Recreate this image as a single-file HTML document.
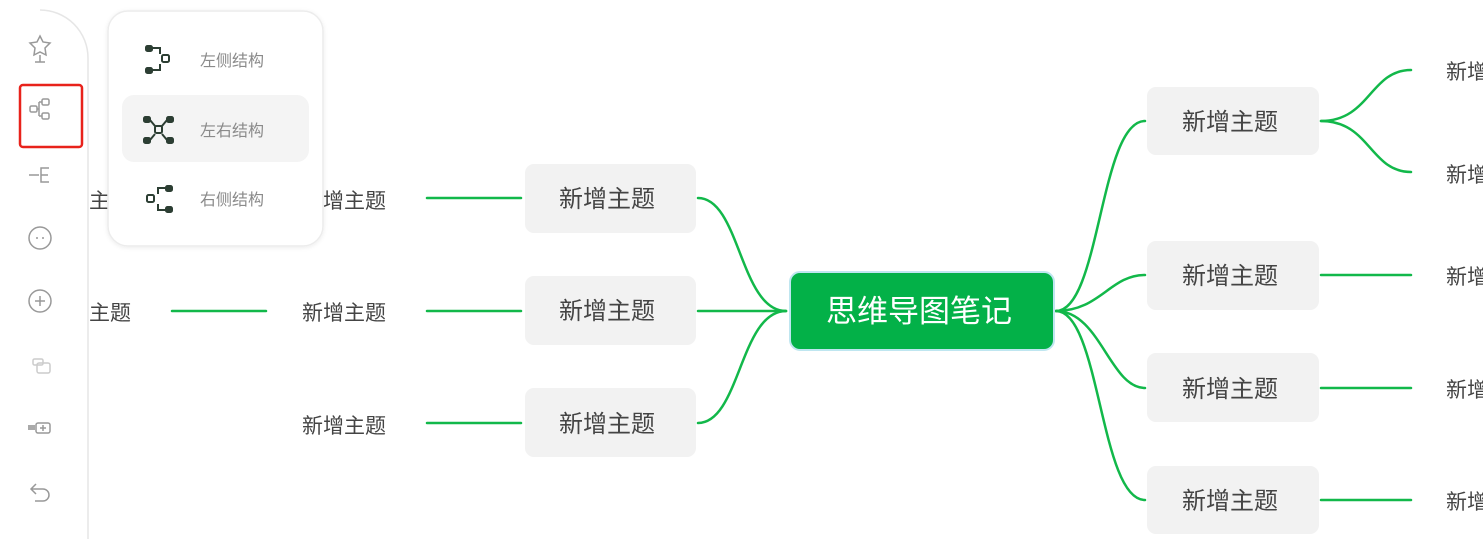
<!DOCTYPE html>
<html><head><meta charset="utf-8">
<style>
html,body{margin:0;padding:0;background:#fff;width:1483px;height:539px;overflow:hidden}
svg{display:block}
text{font-family:"Liberation Sans","Noto Sans CJK SC",sans-serif}
</style></head><body>
<svg width="1483" height="539" viewBox="0 0 1483 539" xmlns="http://www.w3.org/2000/svg">
<defs>
<filter id="sh" x="-10%" y="-10%" width="120%" height="120%"><feDropShadow dx="0" dy="1" stdDeviation="2" flood-color="#000" flood-opacity="0.08"/></filter>
</defs>
<g fill="none" stroke="#12b84a" stroke-width="2.5" stroke-linecap="round">
<!-- left main -->
<path d="M786 311 C740 311 740 198 698 198"/>
<path d="M786 311 L698 311"/>
<path d="M786 311 C740 311 740 423 698 423"/>
<path d="M427 198 L521 198"/>
<path d="M427 311 L521 311"/>
<path d="M427 423 L521 423"/>
<path d="M172 311 L266 311"/>
<!-- right main -->
<path d="M1056 311 C1100 311 1100 121 1145 121"/>
<path d="M1056 311 C1100 311 1110 275 1145 275"/>
<path d="M1056 311 C1100 311 1110 388 1145 388"/>
<path d="M1056 311 C1100 311 1100 500 1145 500"/>
<path d="M1321 121 C1370 121 1370 70 1411 70"/>
<path d="M1321 121 C1370 121 1370 172 1411 172"/>
<path d="M1321 275 L1411 275"/>
<path d="M1321 388 L1411 388"/>
<path d="M1321 500 L1411 500"/>
</g>
<!-- center -->
<rect x="790" y="272" width="264" height="78" rx="10" fill="#03b148" stroke="#bfe6f0" stroke-width="2"/>
<text x="919" y="322" font-size="31" fill="#fff" text-anchor="middle">思维导图笔记</text>
<!-- left nodes -->
<g fill="#f2f2f2">
<rect x="525" y="164" width="171" height="69" rx="9"/>
<rect x="525" y="276" width="171" height="69" rx="9"/>
<rect x="525" y="388" width="171" height="69" rx="9"/>
<rect x="1147" y="87" width="172" height="68" rx="9"/>
<rect x="1147" y="241" width="172" height="69" rx="9"/>
<rect x="1147" y="353" width="172" height="69" rx="9"/>
<rect x="1147" y="466" width="172" height="68" rx="9"/>
</g>
<g font-size="24" fill="#444" text-anchor="middle">
<text x="607" y="207">新增主题</text>
<text x="607" y="319">新增主题</text>
<text x="607" y="432">新增主题</text>
<text x="1230" y="130">新增主题</text>
<text x="1230" y="284">新增主题</text>
<text x="1230" y="397">新增主题</text>
<text x="1230" y="509">新增主题</text>
</g>
<g font-size="21" fill="#444">
<text x="302" y="208">新增主题</text>
<text x="302" y="320">新增主题</text>
<text x="302" y="433">新增主题</text>
<text x="47" y="208">新增主题</text>
<text x="47" y="320">新增主题</text>
<text x="1446" y="79">新增主题</text>
<text x="1446" y="182">新增主题</text>
<text x="1446" y="284">新增主题</text>
<text x="1446" y="397">新增主题</text>
<text x="1446" y="509">新增主题</text>
</g>
<!-- sidebar -->
<path d="M0 10 L40 10 A48 48 0 0 1 88 58 L88 539 L0 539 Z" fill="#fff"/>
<path d="M40 10 A48 48 0 0 1 88 58 L88 539" fill="none" stroke="#e6e6e6" stroke-width="1.5"/>
<g fill="none" stroke="#999" stroke-width="1.5">
<path d="M40 36 l3 6 7 1 -5 5 1 7 -6 -3 -6 3 1 -7 -5 -5 7 -1 z"/><path d="M40 55 v7 M35 62 h10"/>
<rect x="42" y="99" width="7" height="6" rx="1.5"/><rect x="42" y="113" width="7" height="6" rx="1.5"/><rect x="30" y="106" width="7" height="6" rx="1.5"/><path d="M37 109 h2 M39 102 v14 M39 102 h3 M39 116 h3"/>
<path d="M29 175 h10 M49 168 h-8 v14 h8 M41 175 h7"/>
<circle cx="40" cy="238" r="11"/>
<circle cx="40" cy="301" r="11"/><path d="M40 296 v10 M35 301 h10"/>
<g stroke="#ccc"><rect x="33" y="359" width="10" height="6" rx="1.5"/><rect x="37" y="363" width="13" height="10" rx="2"/></g>
<rect x="36" y="423" width="14" height="10" rx="2"/><path d="M43 425 v6 M40 428 h6"/>
<path d="M36 484 l-5 5 5 5 M31 489 h12 a6 6 0 0 1 0 12 h-8"/>
</g>
<circle cx="37" cy="238" r="1" fill="#999"/><circle cx="43" cy="238" r="1" fill="#999"/>
<rect x="28" y="425" width="7" height="5" fill="#aaa"/>
<rect x="20" y="85" width="62" height="62" rx="3" fill="none" stroke="#e8221b" stroke-width="2.5"/>
<!-- popup -->
<rect x="108" y="11" width="215" height="235" rx="20" fill="#fff" stroke="#ececec" stroke-width="1.5" filter="url(#sh)"/>
<rect x="122" y="95" width="187" height="67" rx="12" fill="#f4f4f4"/>
<g fill="#2c3e33" stroke="#2c3e33" stroke-width="2">
<rect x="146" y="46" width="6" height="5" rx="1.5"/><rect x="146" y="68" width="6" height="5" rx="1.5"/>
<path d="M152 48 h8 v6 M152 70 h8 v-6" fill="none"/><rect x="162" y="55" width="7" height="7" rx="1.5" fill="none"/>
<rect x="144" y="117" width="6" height="5" rx="1.5"/><rect x="144" y="138" width="6" height="5" rx="1.5"/>
<rect x="167" y="117" width="6" height="5" rx="1.5"/><rect x="167" y="138" width="6" height="5" rx="1.5"/>
<path d="M150 120 l5 6 M167 120 l-5 6 M150 140 l5 -6 M167 140 l-5 -6" fill="none"/><rect x="155" y="126" width="7" height="7" rx="1.5" fill="none"/>
<rect x="166" y="186" width="6" height="5" rx="1.5"/><rect x="166" y="207" width="6" height="5" rx="1.5"/>
<path d="M166 188 h-8 v6 M166 210 h-8 v-6" fill="none"/><rect x="147" y="195" width="7" height="7" rx="1.5" fill="none"/>
</g>
<g font-size="16" fill="#8a8a8a">
<text x="200" y="66">左侧结构</text>
<text x="200" y="136">左右结构</text>
<text x="200" y="205">右侧结构</text>
</g>
</svg>
</body></html>
